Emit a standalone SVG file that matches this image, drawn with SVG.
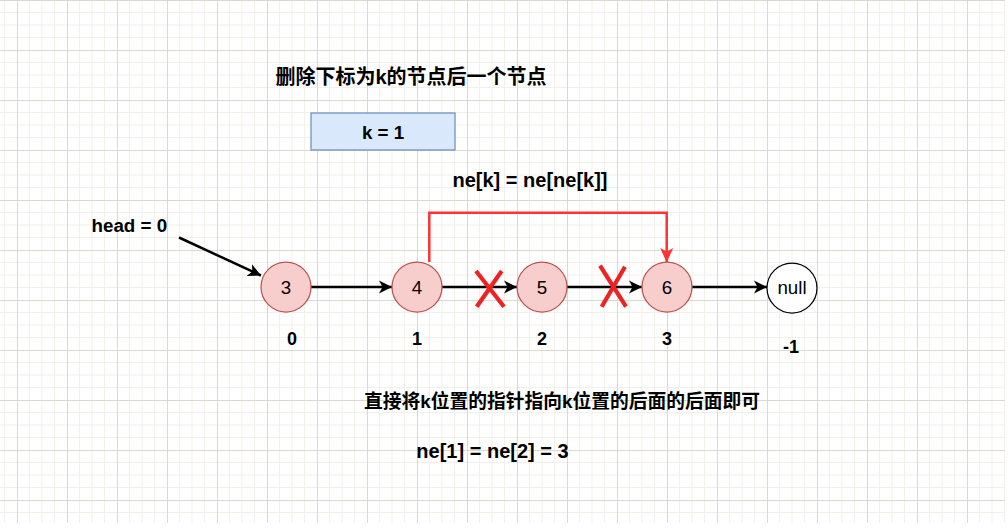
<svg xmlns="http://www.w3.org/2000/svg" width="1008" height="531" viewBox="0 0 1008 531">
<style>
.lat{font-family:"Liberation Sans",Arial,sans-serif;}
.cjk{font-family:"Liberation Sans","Noto Sans CJK SC",sans-serif;font-weight:bold;}
.b{font-weight:bold;}
.node{fill:#f8cecc;stroke:#b85450;stroke-width:1.25;}
.lbl{font-family:"Liberation Sans",Arial,sans-serif;font-size:18.75px;text-anchor:middle;fill:#000;}
.idx{font-family:"Liberation Sans",Arial,sans-serif;font-size:18px;font-weight:bold;text-anchor:middle;fill:#000;}
.edge{stroke:#000;stroke-width:2.5;fill:none;}
.red{stroke:#ff3333;stroke-width:2.5;fill:none;}
.x{stroke:#ee2222;stroke-width:4.2;}
</style>
<defs>
<pattern id="grid" patternUnits="userSpaceOnUse" x="17" y="0" width="50" height="50">
<rect width="50" height="50" fill="#ffffff"/>
<g stroke="#f1f0ea" stroke-width="1">
<line x1="12.5" y1="0" x2="12.5" y2="50"/><line x1="25" y1="0" x2="25" y2="50"/><line x1="37.5" y1="0" x2="37.5" y2="50"/>
<line x1="0" y1="12.5" x2="50" y2="12.5"/><line x1="0" y1="25" x2="50" y2="25"/><line x1="0" y1="37.5" x2="50" y2="37.5"/>
</g>
<g stroke="#dbd8cd" stroke-width="1">
<line x1="0.5" y1="0" x2="0.5" y2="50"/><line x1="0" y1="0.5" x2="50" y2="0.5"/>
</g>
</pattern>
<marker id="ah" markerUnits="userSpaceOnUse" markerWidth="16" markerHeight="16" refX="13" refY="7" orient="auto" viewBox="0 0 16 14">
<path d="M13,7 L0,0.5 L3.5,7 L0,13.5 Z" fill="#000"/>
</marker>
<marker id="ahr" markerUnits="userSpaceOnUse" markerWidth="16" markerHeight="16" refX="14" refY="7" orient="auto" viewBox="0 0 16 14">
<path d="M14.5,7 L0,0.5 L3.5,7 L0,13.5 Z" fill="#ff3333"/>
</marker>
</defs>
<rect width="1008" height="531" fill="#ffffff"/>
<rect width="1005" height="523" fill="url(#grid)"/>

<g id="texts">
<text class="cjk" x="411" y="84" font-size="20" text-anchor="middle">删除下标为k的节点后一个节点</text>
<text class="lat b" x="530" y="187" font-size="20" text-anchor="middle">ne[k] = ne[ne[k]]</text>
<text class="lat b" x="91.5" y="232" font-size="18.75">head = 0</text>
<text class="cjk" x="562" y="408" font-size="18.75" text-anchor="middle">直接将k位置的指针指向k位置的后面的后面即可</text>
<text class="lat b" x="492.5" y="458" font-size="20" text-anchor="middle">ne[1] = ne[2] = 3</text>
</g>

<g id="kbox">
<rect x="311" y="113" width="144" height="37" fill="#dae8fc" stroke="#6c8ebf" stroke-width="1.25"/>
<text class="lat b" x="383" y="138.5" font-size="18.75" text-anchor="middle">k = 1</text>
</g>

<g id="connectors">
<line class="edge" x1="179" y1="237.5" x2="261" y2="275.5" marker-end="url(#ah)"/>
<line class="edge" x1="311" y1="287" x2="392" y2="287" marker-end="url(#ah)"/>
<line class="edge" x1="442" y1="287" x2="517" y2="287" marker-end="url(#ah)"/>
<line class="edge" x1="567" y1="287" x2="642" y2="287" marker-end="url(#ah)"/>
<line class="edge" x1="692" y1="287" x2="767" y2="287" marker-end="url(#ah)"/>
<path class="red" d="M429.3,262 V212.7 H666.7 V262" marker-end="url(#ahr)"/>
</g>

<g id="node0"><circle class="node" cx="286" cy="287" r="25"/><text class="lbl" x="286" y="294">3</text><text class="idx" x="292" y="345">0</text></g>
<g id="node1"><circle class="node" cx="417" cy="287" r="25"/><text class="lbl" x="417" y="294">4</text><text class="idx" x="417" y="345">1</text></g>
<g id="node2"><circle class="node" cx="542" cy="287" r="25"/><text class="lbl" x="542" y="294">5</text><text class="idx" x="542" y="345">2</text></g>
<g id="node3"><circle class="node" cx="667" cy="287" r="25"/><text class="lbl" x="667" y="294">6</text><text class="idx" x="667" y="345">3</text></g>
<g id="nodeNull"><circle cx="792" cy="288" r="25" fill="#ffffff" stroke="#000" stroke-width="1.25"/><text class="lbl" x="792" y="294.3" font-size="18px">null</text><text class="idx" x="791" y="352.7">-1</text></g>

<g id="cross1"><line class="x" x1="476" y1="271" x2="504" y2="306.7"/><line class="x" x1="501.7" y1="271" x2="476.7" y2="306.7"/></g>
<g id="cross2"><line class="x" x1="600" y1="265.7" x2="626" y2="306.7"/><line class="x" x1="625" y1="266.7" x2="601.7" y2="306.7"/></g>
</svg>
